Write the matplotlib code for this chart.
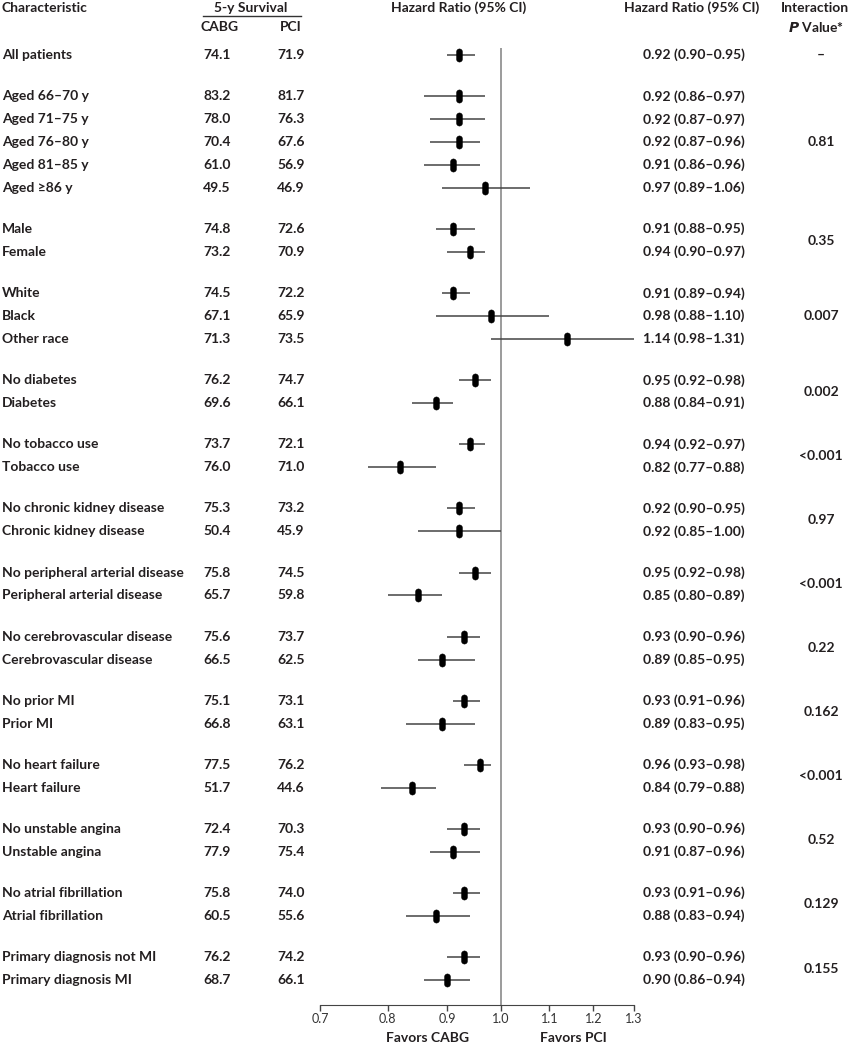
import matplotlib
matplotlib.use("Agg")
import numpy as np
from matplotlib import pyplot as plt
from matplotlib.lines import Line2D
from matplotlib.path import Path
from matplotlib.transforms import blended_transform_factory

labels = ["All patients",
          "Aged 66\u201370 y", "Aged 71\u201375 y", "Aged 76\u201380 y", "Aged 81\u201385 y", "Aged \u226586 y",
          "Male", "Female",
          "White", "Black", "Other race",
          "No diabetes", "Diabetes",
          "No tobacco use", "Tobacco use",
          "No chronic kidney disease", "Chronic kidney disease",
          "No peripheral arterial disease", "Peripheral arterial disease",
          "No cerebrovascular disease", "Cerebrovascular disease",
          "No prior MI", "Prior MI",
          "No heart failure", "Heart failure",
          "No unstable angina", "Unstable angina",
          "No atrial fibrillation", "Atrial fibrillation",
          "Primary diagnosis not MI", "Primary diagnosis MI"]
group_sizes = [1, 5, 2, 3, 2, 2, 2, 2, 2, 2, 2, 2, 2, 2]
cabg = [74.1, 83.2, 78.0, 70.4, 61.0, 49.5, 74.8, 73.2, 74.5, 67.1, 71.3, 76.2, 69.6,
        73.7, 76.0, 75.3, 50.4, 75.8, 65.7, 75.6, 66.5, 75.1, 66.8, 77.5, 51.7,
        72.4, 77.9, 75.8, 60.5, 76.2, 68.7]
pci = [71.9, 81.7, 76.3, 67.6, 56.9, 46.9, 72.6, 70.9, 72.2, 65.9, 73.5, 74.7, 66.1,
       72.1, 71.0, 73.2, 45.9, 74.5, 59.8, 73.7, 62.5, 73.1, 63.1, 76.2, 44.6,
       70.3, 75.4, 74.0, 55.6, 74.2, 66.1]
hr = [0.92, 0.92, 0.92, 0.92, 0.91, 0.97, 0.91, 0.94, 0.91, 0.98, 1.14, 0.95, 0.88,
      0.94, 0.82, 0.92, 0.92, 0.95, 0.85, 0.93, 0.89, 0.93, 0.89, 0.96, 0.84,
      0.93, 0.91, 0.93, 0.88, 0.93, 0.90]
lo = [0.90, 0.86, 0.87, 0.87, 0.86, 0.89, 0.88, 0.90, 0.89, 0.88, 0.98, 0.92, 0.84,
      0.92, 0.77, 0.90, 0.85, 0.92, 0.80, 0.90, 0.85, 0.91, 0.83, 0.93, 0.79,
      0.90, 0.87, 0.91, 0.83, 0.90, 0.86]
hi = [0.95, 0.97, 0.97, 0.96, 0.96, 1.06, 0.95, 0.97, 0.94, 1.10, 1.31, 0.98, 0.91,
      0.97, 0.88, 0.95, 1.00, 0.98, 0.89, 0.96, 0.95, 0.96, 0.95, 0.98, 0.88,
      0.96, 0.96, 0.96, 0.94, 0.96, 0.94]
p_values = ["\u2013", "0.81", "0.35", "0.007", "0.002", "<0.001", "0.97", "<0.001",
            "0.22", "0.162", "<0.001", "0.52", "0.129", "0.155"]
xticks = [0.7, 0.8, 0.9, 1.0, 1.1, 1.2, 1.3]

plt.rcParams['font.family'] = ['Lato', 'DejaVu Sans']
txt = '#231f20'
W, H = 851, 1050
FS = 10

# row positions: 1 unit inside a group, 1.8 between groups
ypos, group_mid = [], []
y = 0.0
for g in group_sizes:
    rows = [y + i for i in range(g)]
    ypos += rows
    group_mid.append((rows[0] + rows[-1]) / 2)
    y = rows[-1] + 1.8

# capsule-shaped marker (rounded vertical bar)
top = Path.arc(0, 180)
bot = Path.arc(180, 360)
vt = top.vertices * 0.5 + [0, 0.6]
vb = bot.vertices * 0.5 + [0, -0.6]
cb = bot.codes.copy()
cb[0] = Path.LINETO
capsule = Path(np.vstack([vt, vb, vt[:1]]),
               np.concatenate([top.codes, cb, [Path.CLOSEPOLY]]))

fig = plt.figure(figsize=(W / 100, H / 100), dpi=100)
ax = fig.add_axes([320 / W, 45 / H, 314 / W, (1005 - 48) / H])
ax.set_xscale('log')
ax.set_xlim(0.7, 1.3)
ax.set_ylim(ypos[-1] + 1.09, -0.31)

ax.axvline(1.0, color='#8a8a8a', lw=1.2, zorder=1)
ax.hlines(ypos, lo, hi, color='#444444', lw=1.1, zorder=2)
ax.plot(hr, ypos, ls='none', marker=capsule, ms=9.5, mew=0.3, color='black', zorder=3)

for s in ['left', 'top', 'right']:
    ax.spines[s].set_visible(False)
ax.spines['bottom'].set_color('#444444')
ax.set_yticks([])
ax.set_xticks(xticks)
ax.set_xticklabels([f"{t:.1f}" for t in xticks])
ax.minorticks_off()
ax.tick_params(axis='x', length=4, width=1, color='#444444', labelsize=9,
               labelcolor='#333333', pad=2)

tr = blended_transform_factory(fig.transFigure, ax.transData)
kw = dict(transform=tr, va='center', color=txt, fontsize=FS, fontweight='bold')
for i, yy in enumerate(ypos):
    ax.text(2 / W, yy, labels[i], ha='left', **kw)
    ax.text(217 / W, yy, f"{cabg[i]:.1f}", ha='center', **kw)
    ax.text(291 / W, yy, f"{pci[i]:.1f}", ha='center', **kw)
    ax.text(694 / W, yy, f"{hr[i]:.2f} ({lo[i]:.2f}\u2013{hi[i]:.2f})", ha='center', **kw)
for j, yy in enumerate(group_mid):
    ax.text(821 / W, yy, p_values[j], ha='center', **kw)

# headers
hk = dict(va='center', color=txt, fontsize=FS, fontweight='bold')
fig.text(2 / W, 1 - 8 / H, "Characteristic", ha='left', **hk)
fig.text(251 / W, 1 - 8 / H, "5-y Survival", ha='center', **hk)
fig.add_artist(Line2D([203 / W, 301 / W], [1 - 16 / H] * 2, color='#333333', lw=1))
fig.text(220 / W, 1 - 27 / H, "CABG", ha='center', **hk)
fig.text(291 / W, 1 - 27 / H, "PCI", ha='center', **hk)
fig.text(459 / W, 1 - 8 / H, "Hazard Ratio (95% CI)", ha='center', **hk)
fig.text(692 / W, 1 - 8 / H, "Hazard Ratio (95% CI)", ha='center', **hk)
fig.text(849 / W, 1 - 8 / H, "Interaction", ha='right', **hk)
fig.text(816 / W, 1 - 27 / H, r"$\mathbfit{P}$ Value*", ha='center', **hk)

fig.text(428 / W, 1 - 1038 / H, "Favors CABG", ha='center', **hk)
fig.text(573 / W, 1 - 1038 / H, "Favors PCI", ha='center', **hk)

fig.savefig('out.png', dpi=100)
